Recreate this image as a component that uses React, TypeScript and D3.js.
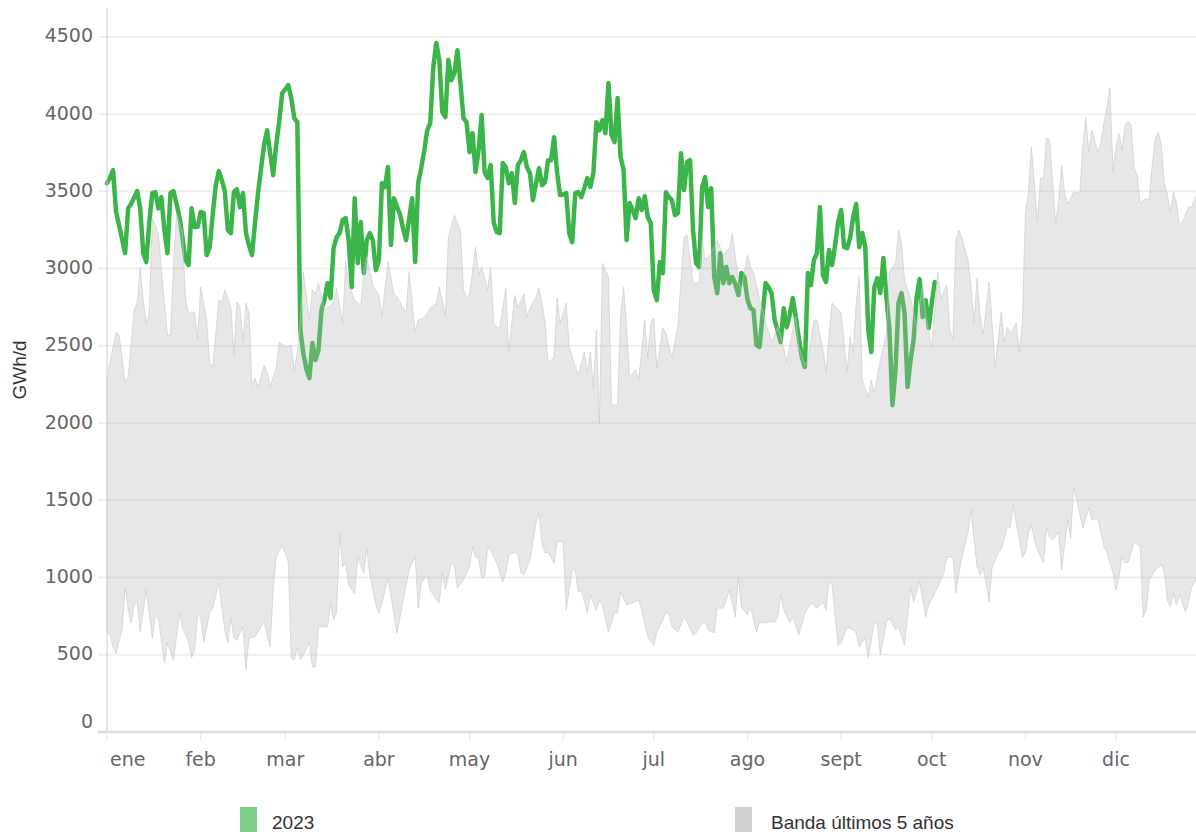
import React from 'react';
import * as d3 from 'd3';

// 2023 daily demand (GWh/d), index = day of year from 1 Jan
const serie2023 = [
  3553, 3590, 3638, 3366, 3280, 3190, 3100, 3390, 3420, 3460, 3502, 3390, 3100, 3042, 3300, 3489, 3495, 3390, 3463, 3250,
  3100, 3489, 3502, 3420, 3333, 3200, 3055, 3023, 3390, 3270, 3270, 3366, 3360, 3087, 3139, 3350, 3540, 3631, 3573, 3500,
  3249, 3230, 3495, 3514, 3398, 3489, 3230, 3150, 3087, 3300, 3489, 3650, 3800, 3896, 3750, 3605, 3800, 3950, 4136, 4160,
  4188, 4103, 3974, 3948, 2602, 2450, 2350, 2291, 2518, 2408, 2472, 2731, 2800, 2906, 2809, 3132, 3204, 3230, 3314, 3327,
  3184, 2880, 3456, 3035, 3301, 2971, 3184, 3230, 3184, 2990, 3055, 3553, 3528, 3657, 3152, 3456, 3400, 3350, 3260, 3184,
  3320, 3456, 3042, 3553, 3650, 3760, 3896, 3942, 4304, 4460, 4350, 4013, 3981, 4350, 4220, 4265, 4414, 4200, 3974, 3948,
  3754, 3877, 3625, 3767, 3994, 3625, 3586, 3670, 3300, 3236, 3230, 3683, 3657, 3553, 3618, 3424, 3670, 3702, 3754, 3657,
  3618, 3443, 3550, 3650, 3540, 3560, 3702, 3702, 3851, 3618, 3476, 3480, 3489, 3230, 3171, 3489, 3495, 3463, 3521, 3586,
  3528, 3618, 3948, 3896, 3961, 3877, 4200, 3864, 3819, 4104, 3722, 3638, 3184, 3424, 3379, 3327, 3456, 3379, 3469, 3333,
  3294, 2861, 2796, 3042, 2971, 3495, 3463, 3443, 3346, 3359, 3747, 3508, 3689, 3702, 3249, 3035, 3010, 3528, 3592, 3398,
  3521, 2945, 2841, 3100, 2906, 3010, 2906, 2945, 2900, 2828, 2971, 2945, 2800, 2744, 2731, 2505, 2492, 2700, 2906, 2880,
  2841, 2667, 2600, 2524, 2744, 2621, 2700, 2809, 2686, 2550, 2427, 2363, 2971, 2893, 3055, 3100, 3398, 2958, 2913, 3120,
  3023, 3150, 3300, 3379, 3139, 3132, 3200, 3333, 3418, 3139, 3230, 3139, 2602, 2460, 2880, 2938, 2841, 3068, 2816, 2602,
  2116, 2343, 2777, 2841, 2712, 2233, 2408, 2537, 2816, 2932, 2686, 2796, 2615, 2777, 2913,
];

// band of the last 5 years: [day of year, GWh/d]
const bandaMax: [number, number][] = [
  [0, 2291], [3, 2589], [4, 2570], [6, 2265], [7, 2298], [9, 2731], [10, 2783], [11, 3010], [12, 2796], [13, 2647],
  [14, 2718], [15, 3327], [17, 3230], [18, 2990], [20, 2570], [21, 2570], [22, 3010], [23, 3359], [25, 3230], [26, 2796],
  [27, 2718], [29, 2718], [30, 2550], [31, 2880], [33, 2667], [34, 2388], [35, 2363], [37, 2796], [38, 2783], [39, 2861],
  [41, 2751], [42, 2440], [43, 2783], [44, 2751], [45, 2524], [46, 2777], [47, 2712], [48, 2246], [49, 2291], [50, 2233],
  [52, 2375], [53, 2330], [54, 2233], [56, 2356], [57, 2524], [59, 2492], [61, 2505], [62, 2343], [63, 2460], [64, 2667],
  [65, 2977], [67, 2667], [68, 2861], [69, 2835], [70, 2906], [72, 2731], [75, 2783], [76, 2874], [78, 2647], [79, 3042],
  [80, 2893], [82, 2796], [84, 2764], [85, 2977], [86, 3074], [88, 2893], [90, 2828], [91, 2686], [93, 3042], [95, 2835],
  [96, 2816], [99, 2712], [100, 2977], [102, 2589], [103, 2667], [105, 2680], [106, 2712], [107, 2744], [109, 2777], [110, 2880],
  [111, 2796], [112, 2686], [113, 3204], [115, 3346], [117, 3249], [118, 2861], [119, 2816], [120, 2828], [122, 3139], [123, 2958],
  [124, 3010], [126, 2861], [127, 3010], [128, 2647], [129, 2621], [130, 2615], [132, 2874], [133, 2460], [135, 2828], [136, 2744],
  [138, 2835], [139, 2686], [140, 2744], [142, 2816], [143, 2874], [144, 2777], [145, 2654], [146, 2388], [148, 2427], [149, 2809],
  [150, 2647], [152, 2777], [153, 2492], [155, 2363], [156, 2311], [158, 2460], [159, 2324], [160, 2460], [161, 2233], [162, 2602],
  [163, 2000], [164, 3035], [166, 2945], [167, 2116], [169, 2116], [170, 2686], [171, 2880], [172, 2615], [173, 2298], [175, 2343],
  [176, 2278], [178, 2667], [179, 2421], [180, 2647], [181, 2680], [182, 2356], [184, 2615], [185, 2582], [187, 2421], [189, 2634],
  [191, 3204], [192, 3217], [194, 2906], [196, 2906], [197, 3184], [198, 3055], [200, 3100], [202, 3184], [204, 3087], [206, 3132],
  [207, 3230], [209, 2925], [210, 2861], [212, 3087], [213, 3010], [214, 2971], [216, 2800], [218, 2650], [220, 2524], [222, 2621],
  [223, 2570], [225, 2395], [227, 2602], [228, 2686], [229, 2492], [231, 2375], [232, 2408], [234, 2667], [235, 2667], [237, 2472],
  [238, 2330], [240, 2777], [243, 2712], [245, 2330], [246, 2557], [247, 2460], [248, 2777], [249, 2950], [250, 2278], [252, 2168],
  [253, 2278], [254, 2194], [256, 2408], [258, 2582], [259, 2977], [261, 3035], [262, 3249], [263, 3171], [264, 2925], [266, 2809],
  [268, 2620], [270, 2900], [271, 2700], [273, 2485], [275, 2977], [276, 2809], [278, 2893], [279, 2602], [280, 2537], [281, 3184],
  [282, 3249], [283, 3197], [285, 3055], [286, 2880], [287, 2647], [288, 2938], [289, 2700], [290, 2570], [292, 2913], [294, 2363],
  [296, 2718], [297, 2524], [298, 2621], [299, 2582], [301, 2647], [302, 2460], [303, 2647], [304, 3359], [305, 3489], [306, 3786],
  [308, 3301], [309, 3586], [310, 3586], [311, 3845], [312, 3832], [314, 3294], [315, 3430], [316, 3670], [317, 3489], [318, 3418],
  [320, 3495], [322, 3489], [323, 3786], [324, 3974], [325, 3754], [326, 3896], [328, 3754], [329, 3812], [330, 3942], [331, 4045],
  [332, 4168], [333, 3625], [334, 3786], [335, 3877], [336, 3767], [337, 3929], [338, 3955], [339, 3929], [340, 3650], [341, 3605],
  [342, 3424], [344, 3456], [345, 3443], [346, 3670], [347, 3845], [348, 3884], [349, 3799], [350, 3553], [351, 3476], [352, 3366],
  [353, 3495], [354, 3424], [355, 3282], [356, 3301], [358, 3398], [359, 3398], [361, 3495], [364, 3500],
];

const bandaMin: [number, number][] = [
  [0, 647], [1, 628], [2, 550], [3, 511], [5, 660], [6, 938], [7, 790], [8, 705], [9, 822], [10, 841],
  [11, 647], [13, 919], [15, 608], [16, 757], [17, 738], [19, 447], [20, 576], [22, 466], [24, 770], [25, 673],
  [27, 582], [28, 479], [29, 531], [30, 757], [31, 744], [32, 582], [34, 770], [35, 802], [37, 964], [39, 660],
  [40, 576], [41, 738], [42, 608], [43, 595], [45, 680], [46, 401], [47, 608], [49, 615], [52, 712], [53, 628],
  [54, 550], [55, 919], [56, 1133], [58, 1210], [60, 1100], [61, 479], [62, 466], [63, 550], [64, 466], [65, 498],
  [67, 582], [68, 421], [69, 421], [70, 680], [73, 680], [74, 835], [75, 725], [76, 776], [77, 1288], [78, 1068],
  [79, 1100], [80, 951], [82, 899], [83, 1126], [85, 1029], [86, 1191], [87, 1016], [89, 822], [90, 770], [91, 835],
  [93, 997], [96, 641], [100, 1049], [102, 1133], [103, 802], [104, 964], [106, 1016], [107, 919], [109, 854], [110, 835],
  [111, 1029], [112, 919], [114, 1094], [115, 1081], [116, 932], [118, 984], [120, 1068], [121, 1197], [122, 1133], [123, 1126],
  [124, 997], [125, 1003], [126, 1191], [127, 1178], [129, 1094], [131, 971], [132, 1029], [133, 1146], [135, 1165], [136, 1146],
  [137, 1029], [138, 1016], [140, 1113], [142, 1353], [143, 1417], [144, 1223], [145, 1159], [146, 1165], [148, 1094], [149, 1230],
  [151, 1230], [152, 790], [154, 1049], [155, 1049], [156, 906], [157, 919], [159, 770], [160, 887], [162, 790], [163, 854],
  [164, 822], [166, 647], [168, 770], [169, 770], [170, 906], [172, 822], [174, 835], [176, 854], [177, 790], [179, 615],
  [181, 563], [182, 647], [184, 725], [185, 770], [186, 770], [187, 680], [189, 647], [191, 744], [192, 712], [194, 628],
  [195, 641], [197, 705], [198, 712], [199, 660], [201, 641], [202, 802], [204, 802], [205, 854], [206, 919], [208, 744],
  [209, 997], [210, 809], [212, 757], [213, 809], [215, 647], [216, 712], [218, 705], [219, 712], [221, 712], [222, 744],
  [223, 887], [224, 790], [226, 705], [227, 744], [229, 628], [231, 770], [233, 835], [235, 802], [237, 841], [238, 790],
  [239, 971], [240, 951], [242, 563], [243, 576], [245, 680], [247, 660], [248, 641], [249, 550], [251, 608], [252, 479],
  [254, 705], [255, 705], [256, 498], [258, 712], [259, 738], [261, 660], [262, 680], [264, 563], [266, 938], [267, 841],
  [269, 971], [271, 744], [272, 822], [274, 899], [276, 984], [277, 1029], [278, 1133], [280, 1133], [281, 899], [282, 1029],
  [283, 1133], [285, 1288], [286, 1437], [288, 1068], [289, 1016], [290, 1061], [291, 964], [292, 841], [293, 1068], [295, 1159],
  [296, 1178], [298, 1327], [299, 1320], [300, 1469], [301, 1353], [303, 1133], [304, 1159], [305, 1288], [306, 1340], [307, 1243],
  [308, 1178], [310, 1094], [311, 1320], [312, 1262], [313, 1243], [315, 1294], [316, 1049], [318, 1372], [319, 1256], [320, 1579],
  [321, 1502], [323, 1320], [324, 1385], [325, 1450], [326, 1372], [328, 1385], [329, 1288], [330, 1197], [331, 1165], [333, 1029],
  [334, 919], [335, 1003], [336, 1133], [337, 1094], [338, 1100], [340, 1223], [341, 1217], [342, 1197], [343, 744], [344, 790],
  [345, 984], [347, 1049], [349, 1081], [350, 1036], [351, 854], [352, 809], [353, 899], [354, 822], [355, 887], [357, 777],
  [358, 841], [359, 938], [361, 997], [364, 1000],
];

const meses = ['ene', 'feb', 'mar', 'abr', 'may', 'jun', 'jul', 'ago', 'sept', 'oct', 'nov', 'dic'];
const yTicks = [0, 500, 1000, 1500, 2000, 2500, 3000, 3500, 4000, 4500];

const W = 1196;
const H = 832;
const left = 107;
const bottom = 732;

const inicio = new Date(2023, 0, 1);
const fecha = (d: number) => d3.timeDay.offset(inicio, d);

const x = d3.scaleTime()
  .domain([inicio, new Date(2024, 0, 1)])
  .range([left, left + 365 * 3.021]);

const y = d3.scaleLinear()
  .domain([0, 4500])
  .range([bottom, 36.9]);

const tickFont = '"DejaVu Sans", sans-serif';
const textFont = '"Liberation Sans", Arial, sans-serif';

export default function App() {
  const linea = d3.line<[number, number]>()
    .x(d => x(fecha(d[0])))
    .y(d => y(d[1]));

  // band polygon: upper edge forward, lower edge backwards
  const banda = d3.line<[number, number]>()
    .x(d => x(fecha(d[0])))
    .y(d => y(d[1]))
    .curve(d3.curveLinearClosed)([...bandaMax, ...bandaMin.slice().reverse()]) || '';

  const verde = linea(serie2023.map((v, i) => [i, v] as [number, number])) || '';

  const mesTicks = meses.map((m, i) => ({ m, pos: x(new Date(2023, i, 1)) }));

  return (
    <div style={{ position: 'fixed', left: 0, top: 0 }}>
      <svg width={W} height={H} style={{ display: 'block' }}>
        <rect width={W} height={H} fill="#fff" />

        {/* grid */}
        {yTicks.filter(t => t > 0).map(t => (
          <line key={t} x1={98} x2={W} y1={y(t)} y2={y(t)} stroke="#eeeeee" strokeWidth={2} />
        ))}

        {/* 2023 line, under the band */}
        <path d={verde} fill="none" stroke="#3bb54a" strokeWidth={4.5}
          strokeLinejoin="round" strokeLinecap="round" />

        {/* band of last 5 years */}
        <path d={banda} fill="#b0b0b0" fillOpacity={0.31} stroke="#c8c8c8" strokeOpacity={0.6} strokeWidth={1} />

        {/* axes */}
        <line x1={left} x2={left} y1={8} y2={bottom} stroke="#cccccc" strokeWidth={1} />
        <line x1={98} x2={W} y1={bottom} y2={bottom} stroke="#dddddd" strokeWidth={2.5} />

        {mesTicks.map(({ m, pos }, i) => (
          <g key={m}>
            <line x1={pos} x2={pos} y1={bottom + 1} y2={bottom + 9} stroke="#e6e6e6" strokeWidth={1} />
            <text x={i === 0 ? pos + 3 : pos} y={760} textAnchor={i === 0 ? 'start' : 'middle'}
              dominantBaseline="middle" fontFamily={tickFont} fontSize={19} fill="#666">{m}</text>
          </g>
        ))}

        {yTicks.map(t => (
          <text key={t} x={93} y={y(t) + (t === 0 ? -10 : 0)} textAnchor="end" dominantBaseline="middle"
            fontFamily={tickFont} fontSize={19} fill="#666">{t}</text>
        ))}

        <text transform="translate(26,370) rotate(-90)" textAnchor="middle"
          fontFamily={textFont} fontSize={19} fill="#333">GWh/d</text>

        {/* legend */}
        <rect x={240} y={807} width={17} height={30} fill="#80ce8a" />
        <text x={272} y={829} fontFamily={textFont} fontSize={19} fill="#333">2023</text>
        <rect x={735} y={807} width={17} height={30} fill="#d0d0d0" />
        <text x={771} y={829} fontFamily={textFont} fontSize={19} fill="#333">Banda últimos 5 años</text>
      </svg>
    </div>
  );
}
